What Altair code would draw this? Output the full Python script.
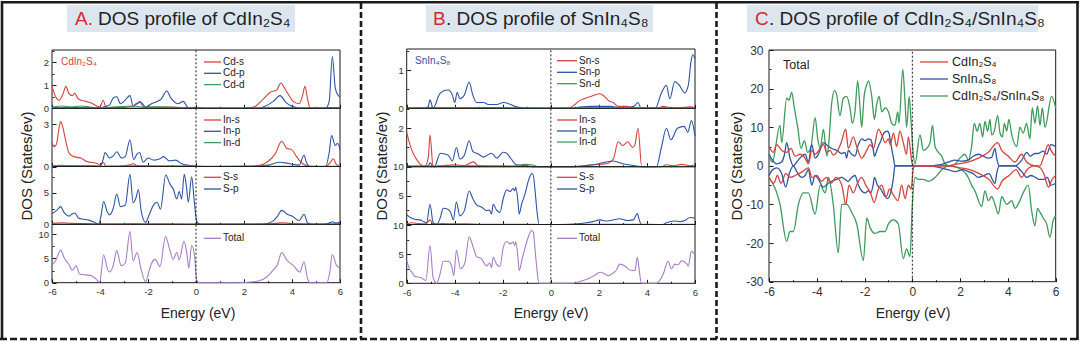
import altair as alt
import pandas as pd

W, H = 1080, 341
FONT = "Liberation Sans"
INK = "#1b1b1b"
LABEL = "#333333"
RED = "#d5433b"
BLUE = "#2e54a4"
GREEN = "#3e9b5d"
PURPLE = "#a87dc8"
TITLE_RED = "#d9262c"
BOX = "#dde6ef"

# ---------------- data (Energy eV, DOS states/eV) ----------------
A_CD_S = [(-6, 0.95), (-5.85, 0.5), (-5.7, 0.35), (-5.55, 0.6), (-5.42, 0.95), (-5.3, 0.65), (-5.15, 0.55),
          (-5.05, 0.65), (-4.9, 0.4), (-4.6, 0.3), (-4.3, 0.2), (-4.1, 0.08), (-4.0, 0.05), (-3.87, 0.35),
          (-3.75, 0.05), (-3.5, 0.02), (-3.0, 0.05), (-2.6, 0.1), (-2.45, 0.2), (-2.33, 0.3), (-2.2, 0.05),
          (-1.8, 0.05), (-1.2, 0.05), (-0.5, 0.03), (0, 0.02), (0.5, 0), (2.0, 0), (2.4, 0.05), (2.8, 0.4),
          (3.1, 0.7), (3.35, 0.78), (3.54, 1.1), (3.7, 0.85), (3.85, 0.6), (4.05, 0.3), (4.3, 0.2), (4.45, 0.6),
          (4.54, 0.95), (4.65, 0.4), (4.75, 0.02), (5.0, 0), (5.6, 0.03), (6, 0.02)]
A_CD_P = [(-6, 0.02), (-4.5, 0.02), (-4, 0), (-3.87, 0.05), (-3.6, 0.15), (-3.45, 0.45), (-3.3, 0.5),
          (-3.15, 0.2), (-3.0, 0.3), (-2.75, 0.55), (-2.62, 0.1), (-2.5, 0.2), (-2.28, 0.25), (-2.1, 0.05),
          (-1.85, 0.2), (-1.65, 0.28), (-1.45, 0.4), (-1.22, 0.75), (-1.05, 0.45), (-0.75, 0.2), (-0.53, 0.3),
          (-0.35, 0.05), (-0.15, 0), (0, 0), (2.6, 0), (2.9, 0.1), (3.22, 0.3), (3.5, 0.55), (3.75, 0.25),
          (4.1, 0.05), (4.4, 0), (5.4, 0), (5.55, 0.3), (5.68, 2.25), (5.8, 0.9), (5.9, 0.6), (6, 0.5)]
A_CD_D = [(-6, 0.05), (-5.6, 0.1), (-5.2, 0.06), (-4.8, 0.1), (-4.4, 0.05), (-4.0, 0.02), (-3.5, 0.05),
          (-3.0, 0.08), (-2.6, 0.1), (-2.2, 0.05), (-1.6, 0.06), (-1.0, 0.04), (-0.5, 0.03), (0, 0.01), (1, 0),
          (3.0, 0.02), (3.5, 0.03), (4.5, 0.02), (5.5, 0.02), (6, 0.02)]
A_IN_S = [(-6, 1.7), (-5.9, 1.4), (-5.8, 1.7), (-5.7, 2.8), (-5.64, 3.2), (-5.55, 2.8), (-5.45, 2.0),
          (-5.3, 1.0), (-5.15, 0.75), (-4.95, 0.65), (-4.8, 0.6), (-4.55, 0.35), (-4.3, 0.28), (-4.1, 0.2),
          (-4.0, 0.05), (-3.87, 0.3), (-3.75, 0.02), (-3.2, 0.02), (-2.8, 0.1), (-2.6, 0.2), (-2.45, 0.05),
          (-2.0, 0.04), (-1.0, 0.03), (0, 0.01), (2.2, 0), (2.7, 0.1), (2.95, 0.3), (3.3, 0.9), (3.57, 1.8),
          (3.78, 1.3), (3.99, 1.2), (4.15, 0.8), (4.3, 0.45), (4.45, 0.2), (4.75, 0.02), (5.4, 0), (5.6, 0.3),
          (5.72, 0.55), (5.85, 0.15), (6, 0.02)]
A_IN_P = [(-6, 0.02), (-5.5, 0.05), (-5.0, 0.04), (-4.3, 0.05), (-4.0, 0), (-3.87, 0.5), (-3.79, 1.0),
          (-3.6, 0.6), (-3.45, 0.75), (-3.3, 1.05), (-3.1, 0.6), (-2.95, 0.7), (-2.75, 1.9), (-2.6, 0.5),
          (-2.45, 0.9), (-2.35, 1.0), (-2.2, 0.3), (-2.0, 0.6), (-1.75, 0.45), (-1.5, 0.55), (-1.36, 0.7),
          (-1.1, 0.4), (-0.85, 0.45), (-0.6, 0.2), (-0.3, 0.08), (0, 0.02), (0.5, 0), (2.4, 0.03), (3.0, 0.1),
          (3.5, 0.3), (3.9, 0.2), (4.3, 0.1), (4.5, 0.8), (4.6, 0.3), (4.75, 0), (5.4, 0), (5.55, 1.0),
          (5.65, 2.2), (5.8, 1.5), (5.9, 1.65), (6, 1.2)]
A_IN_D = [(-6, 0.05), (-5.6, 0.08), (-5.2, 0.05), (-4.5, 0.05), (-4.0, 0.02), (-3.2, 0.04), (-2.5, 0.05),
          (-1.8, 0.04), (-1.0, 0.03), (-0.3, 0.05), (0, 0.02), (1, 0), (3.5, 0.02), (6, 0.02)]
A_S_S = [(-6, 0.15), (-5.6, 0.25), (-5.2, 0.15), (-4.8, 0.12), (-4.4, 0.08), (-4.0, 0.02), (-3.5, 0.05),
         (-3.0, 0.05), (-2.5, 0.08), (-2.0, 0.03), (-1.0, 0.03), (0, 0.01), (1, 0), (2.8, 0.02), (3.3, 0.15),
         (3.6, 0.25), (3.9, 0.15), (4.5, 0.05), (5.0, 0), (6, 0.02)]
A_S_P = [(-6, 1.7), (-5.8, 2.2), (-5.64, 2.8), (-5.5, 1.9), (-5.4, 1.5), (-5.3, 1.3), (-5.18, 1.6),
         (-5.05, 1.8), (-4.9, 1.0), (-4.7, 0.8), (-4.5, 0.7), (-4.25, 0.35), (-4.05, 0), (-3.95, 1.5),
         (-3.85, 3.6), (-3.7, 2.0), (-3.6, 1.5), (-3.45, 2.5), (-3.3, 4.8), (-3.15, 2.8), (-2.95, 3.0),
         (-2.75, 7.9), (-2.62, 3.4), (-2.5, 4.2), (-2.4, 5.5), (-2.28, 2.0), (-2.1, 0.3), (-1.95, 1.5),
         (-1.78, 3.0), (-1.62, 3.5), (-1.48, 2.4), (-1.26, 7.8), (-1.1, 6.5), (-0.94, 5.5), (-0.8, 4.0),
         (-0.7, 5.2), (-0.6, 4.0), (-0.49, 7.9), (-0.4, 6.0), (-0.32, 3.5), (-0.18, 7.5), (-0.08, 4.0),
         (0.03, 0.5), (0.17, 0), (2.8, 0), (3.2, 0.5), (3.4, 1.3), (3.57, 2.2), (3.8, 1.6), (4.0, 1.3),
         (4.3, 0.6), (4.5, 1.6), (4.65, 0.2), (4.8, 0), (5.4, 0), (5.6, 0.3), (5.68, 0.4), (5.85, 0.2), (6, 0.3)]
A_TOT = [(-6, 3.6), (-5.85, 4.5), (-5.64, 6.7), (-5.5, 5.2), (-5.42, 4.5), (-5.3, 3.8), (-5.15, 2.5),
         (-5.0, 3.5), (-4.85, 1.8), (-4.6, 1.6), (-4.4, 1.5), (-4.2, 0.9), (-4.0, 0.1), (-3.95, 2.0),
         (-3.85, 5.7), (-3.7, 3.0), (-3.6, 2.2), (-3.45, 3.5), (-3.3, 6.6), (-3.12, 3.5), (-2.95, 4.0),
         (-2.75, 10.5), (-2.62, 4.5), (-2.45, 6.2), (-2.3, 3.0), (-2.1, 0.2), (-1.95, 2.5), (-1.85, 4.0),
         (-1.7, 4.8), (-1.5, 3.3), (-1.27, 9.5), (-1.1, 6.9), (-0.95, 4.8), (-0.8, 6.2), (-0.7, 4.7),
         (-0.5, 8.5), (-0.38, 6.0), (-0.3, 3.0), (-0.18, 7.7), (-0.05, 5.0), (0.03, 0.5), (0.15, 0), (1.7, 0),
         (2.4, 0.2), (2.8, 0.7), (3.2, 2.5), (3.4, 3.8), (3.57, 6.2), (3.78, 4.7), (4.06, 3.5), (4.33, 2.2),
         (4.5, 4.3), (4.64, 1.0), (4.75, 0), (5.45, 0), (5.57, 2.0), (5.68, 5.8), (5.86, 3.5), (6, 3.0)]

B_SN_S = [(-6, 0), (-5.0, 0.01), (-3.5, 0.01), (-3.0, 0.02), (-2.0, 0.01), (0, 0), (0.7, 0), (0.9, 0.05),
          (1.2, 0.2), (1.62, 0.3), (2.04, 0.38), (2.25, 0.3), (2.4, 0.2), (2.6, 0.15), (2.8, 0.05), (3.15, 0.05),
          (3.5, 0), (4.5, 0), (4.65, 0.05), (4.95, 0.02), (5.3, 0.01), (5.8, 0.04), (6, 0.02)]
B_SN_P = [(-6, 0), (-5.2, 0), (-5.1, 0.05), (-5.03, 0.22), (-4.9, 0), (-4.8, 0.1), (-4.69, 0.3), (-4.48, 0.45),
          (-4.27, 0.48), (-4.1, 0.35), (-4.0, 0.15), (-3.9, 0.42), (-3.79, 0.25), (-3.6, 0.35), (-3.4, 0.68),
          (-3.25, 0.35), (-3.09, 0.15), (-2.8, 0.15), (-2.6, 0.1), (-2.25, 0.1), (-1.98, 0.15), (-1.75, 0.12),
          (-1.5, 0.05), (-1.0, 0), (0, 0), (0.9, 0), (1.2, 0.03), (1.76, 0.05), (2.45, 0.05), (3.0, 0),
          (3.45, 0.05), (3.63, 0.15), (3.75, 0), (4.35, 0), (4.6, 0.4), (4.81, 0.6), (4.95, 0.25), (5.16, 0.7),
          (5.35, 0.6), (5.57, 0.4), (5.72, 0.6), (5.83, 1.2), (5.9, 1.4), (6, 1.3)]
B_SN_D = [(-6, 0), (-4, 0.01), (-2, 0.01), (0, 0), (2, 0.01), (4, 0.01), (6, 0.01)]
B_IN_S = [(-6, 1.8), (-5.9, 1.3), (-5.8, 0.9), (-5.65, 0.5), (-5.45, 0.15), (-5.25, 0), (-5.1, 0.5),
          (-5.03, 1.65), (-4.9, 0), (-4.5, 0.05), (-4.0, 0.1), (-3.6, 0.05), (-3.23, 0.25), (-3.0, 0.05),
          (-2.0, 0.03), (-1.0, 0.01), (0, 0), (0.9, 0), (1.76, 0.1), (2.3, 0.15), (2.6, 0.4), (2.8, 1.3),
          (3.0, 1.1), (3.2, 1.3), (3.4, 1.0), (3.5, 1.15), (3.63, 2.0), (3.78, 0), (4.6, 0), (4.8, 0.1),
          (5.1, 0.05), (5.45, 0.12), (5.8, 0.05), (6, 0.1)]
B_IN_P = [(-6, 0.05), (-5.5, 0.03), (-5.1, 0.05), (-5.03, 0.2), (-4.85, 0), (-4.6, 0.7), (-4.27, 0.6),
          (-4.1, 0.3), (-3.93, 1.0), (-3.79, 0.4), (-3.6, 0.6), (-3.4, 1.35), (-3.25, 0.8), (-3.0, 0.65),
          (-2.8, 0.5), (-2.47, 0.7), (-2.25, 0.45), (-1.98, 0.75), (-1.84, 0.7), (-1.65, 0.4), (-1.43, 0.1),
          (-1.0, 0.05), (-0.7, 0), (0, 0), (0.9, 0), (1.76, 0.1), (2.6, 0.3), (3.0, 0.15), (3.5, 0.05),
          (3.78, 0), (4.4, 0), (4.6, 1.0), (4.81, 2.0), (5.0, 1.4), (5.27, 2.0), (5.55, 2.1), (5.7, 1.8),
          (5.85, 2.4), (6, 1.6)]
B_IN_D = [(-6, 0), (-5.2, 0.03), (-4.5, 0.05), (-4.0, 0.04), (-3.0, 0.05), (-2.0, 0.03), (-1.4, 0.05),
          (-1.1, 0.12), (-0.8, 0.1), (-0.5, 0), (0, 0), (6, 0.01)]
B_S_S = [(-6, 0.1), (-5.8, 0.3), (-5.5, 0.15), (-5.2, 0.1), (-5.03, 0.8), (-4.9, 0.1), (-4.5, 0.15), (-4, 0.1),
         (-3.5, 0.1), (-3, 0.05), (-2, 0.05), (-1, 0.05), (-0.5, 0), (0, 0), (2, 0.05), (3.6, 0.05), (4.5, 0),
         (6, 0.05)]
B_S_P = [(-6, 1.7), (-5.85, 1.2), (-5.67, 0.9), (-5.45, 0.8), (-5.3, 0.5), (-5.17, 0.3), (-5.03, 3.5),
         (-4.9, 0.3), (-4.75, 0), (-4.6, 1.2), (-4.48, 2.8), (-4.27, 2.6), (-4.16, 2.0), (-4.06, 0.8),
         (-3.93, 3.9), (-3.79, 1.5), (-3.6, 2.4), (-3.4, 5.8), (-3.25, 4.5), (-3.09, 3.4), (-2.88, 3.0),
         (-2.68, 2.4), (-2.55, 2.5), (-2.47, 1.8), (-2.4, 3.5), (-2.26, 2.5), (-2.12, 2.1), (-1.98, 4.5),
         (-1.84, 6.0), (-1.7, 5.7), (-1.57, 6.2), (-1.5, 5.8), (-1.46, 6.5), (-1.36, 3.6), (-1.32, 1.8),
         (-1.22, 3.5), (-1.08, 5.2), (-0.94, 7.5), (-0.8, 8.8), (-0.73, 8.5), (-0.66, 6.0), (-0.57, 2.0),
         (-0.49, 0), (0.65, 0), (1.48, 0.3), (1.76, 0.5), (2.04, 0.8), (2.32, 0.6), (2.73, 0.9), (2.87, 1.0),
         (3.15, 0.7), (3.43, 0.8), (3.6, 1.9), (3.68, 0.8), (3.77, 0), (4.67, 0), (4.81, 0.3), (5.16, 0.6),
         (5.37, 0.5), (5.58, 0.7), (5.79, 1.2), (6, 1.1)]
B_TOT = [(-6, 4.0), (-5.85, 2.2), (-5.8, 2.0), (-5.67, 1.2), (-5.43, 1.0), (-5.2, 0.5), (-5.03, 6.5),
         (-4.9, 1.0), (-4.75, 0), (-4.6, 1.8), (-4.48, 3.8), (-4.27, 3.8), (-4.13, 3.0), (-4.04, 1.3),
         (-3.93, 5.7), (-3.76, 2.5), (-3.58, 3.5), (-3.4, 8.0), (-3.23, 6.2), (-3.09, 4.6), (-2.88, 4.2),
         (-2.68, 3.0), (-2.54, 3.5), (-2.47, 2.7), (-2.4, 4.5), (-2.26, 3.3), (-2.12, 2.9), (-1.98, 6.2),
         (-1.84, 7.2), (-1.7, 6.8), (-1.57, 7.1), (-1.5, 6.5), (-1.46, 7.2), (-1.36, 4.0), (-1.32, 2.2),
         (-1.19, 4.3), (-1.05, 6.5), (-0.91, 8.3), (-0.8, 9.1), (-0.73, 8.8), (-0.66, 6.0), (-0.57, 2.0),
         (-0.49, 0), (0.8, 0), (1.2, 0.3), (1.62, 0.9), (1.83, 1.4), (2.06, 1.9), (2.25, 1.6), (2.38, 1.3),
         (2.6, 1.8), (2.73, 2.3), (2.87, 3.3), (3.08, 3.0), (3.29, 2.3), (3.5, 2.2), (3.6, 4.5), (3.68, 2.2),
         (3.77, 0), (4.4, 0), (4.67, 1.5), (4.88, 3.8), (5.02, 2.5), (5.16, 3.3), (5.3, 3.2), (5.44, 3.9),
         (5.65, 3.4), (5.72, 3.0), (5.85, 5.5), (6, 4.9)]

C_CD_UP = [(-6, 5), (-5.82, 3.5), (-5.68, 5.5), (-5.47, 4), (-5.26, 3.5), (-5.08, 4.5), (-4.91, 2.5), (-4.7, 3),
           (-4.49, 2), (-4.35, 0.5), (-4.21, 4), (-4.07, 3), (-3.86, 4.5), (-3.72, 5.5), (-3.58, 3.5),
           (-3.44, 4), (-3.31, 2.8), (-3.17, 3.5), (-2.98, 6), (-2.79, 9.5), (-2.68, 4.5), (-2.47, 7.5),
           (-2.33, 5), (-2.12, 2), (-1.91, 4), (-1.77, 5.5), (-1.63, 4.5), (-1.42, 9.5), (-1.28, 8), (-1.14, 6),
           (-1.0, 7), (-0.93, 5.5), (-0.79, 8.5), (-0.66, 5), (-0.52, 9), (-0.38, 6), (-0.24, 3), (-0.17, 7.5),
           (0, 0.5), (0.11, 0), (1.5, 0), (1.9, 0.5), (2.35, 1), (2.76, 2), (3.18, 3.5), (3.57, 6), (3.74, 4),
           (4.02, 2.5), (4.3, 1), (4.57, 3), (4.78, 1), (5.13, 0), (5.34, 0), (5.48, 2), (5.69, 5.5), (5.8, 4),
           (6, 2.5)]
C_CD_DN = [(-6, -3), (-5.8, -4.5), (-5.65, -2.5), (-5.5, -4.5), (-5.3, -2), (-5.1, -3), (-4.9, -2.5),
           (-4.6, -1.5), (-4.35, -0.5), (-4.2, -3), (-4.0, -2.5), (-3.8, -4), (-3.6, -3), (-3.4, -4.5),
           (-3.2, -3), (-2.95, -5), (-2.79, -10), (-2.65, -5), (-2.47, -7), (-2.3, -4.5), (-2.12, -3),
           (-1.95, -5), (-1.75, -7), (-1.6, -9.5), (-1.42, -6), (-1.28, -5), (-1.1, -8), (-0.95, -6),
           (-0.8, -7.5), (-0.6, -9), (-0.45, -5), (-0.3, -8.5), (-0.17, -5), (-0.05, -6), (0.05, -0.5),
           (0.15, 0), (1.5, 0), (2.0, -0.5), (2.4, -1), (2.8, -2), (3.2, -3.5), (3.57, -6), (3.75, -4),
           (4.05, -2.5), (4.35, -1), (4.57, -3), (4.8, -1), (5.1, 0), (5.35, -0.5), (5.5, -2), (5.7, -5.5),
           (5.85, -3.5), (6, -2.5)]
C_SN_UP = [(-6, 3), (-5.85, 1.5), (-5.68, 0.5), (-5.47, 1), (-5.35, 3), (-5.26, 6), (-5.12, 2), (-4.98, 0),
           (-4.84, 1), (-4.63, 2.5), (-4.49, 3), (-4.35, 1), (-4.21, 5.5), (-4.07, 2), (-3.93, 3), (-3.72, 6),
           (-3.51, 5), (-3.38, 4.5), (-3.17, 4), (-2.96, 3.2), (-2.82, 3.5), (-2.75, 2), (-2.68, 4), (-2.54, 3),
           (-2.4, 2.5), (-2.26, 5.5), (-2.12, 7), (-1.98, 6.5), (-1.84, 7), (-1.74, 6.8), (-1.63, 4),
           (-1.59, 2.5), (-1.46, 4.5), (-1.32, 6.5), (-1.19, 8.5), (-1.05, 9), (-0.98, 8.5), (-0.91, 6),
           (-0.79, 2), (-0.73, 0), (0.7, 0), (1.2, 0.3), (1.51, 1), (1.79, 1.5), (2.07, 1.2), (2.34, 1.5),
           (2.55, 2.5), (2.76, 3), (2.97, 2.5), (3.18, 2), (3.32, 2.2), (3.46, 4.5), (3.53, 2), (3.63, 0),
           (4.3, 0), (4.58, 1.5), (4.79, 3.5), (4.93, 2.5), (5.13, 3.2), (5.27, 3.2), (5.48, 3.8), (5.62, 3),
           (5.8, 5.5), (6, 5)]
C_SN_DN = [(-6, -2.5), (-5.85, -1), (-5.68, -0.5), (-5.47, -2), (-5.3, -5.5), (-5.15, -2), (-4.98, 0),
           (-4.84, -1.5), (-4.63, -3), (-4.49, -2.5), (-4.35, -1), (-4.21, -5), (-4.07, -2.5), (-3.93, -3.5),
           (-3.72, -5.5), (-3.51, -4.5), (-3.38, -4), (-3.17, -3.5), (-2.96, -3), (-2.82, -3.5), (-2.68, -4),
           (-2.54, -3), (-2.4, -2.5), (-2.26, -5), (-2.12, -6.5), (-1.98, -7), (-1.84, -6.5), (-1.74, -7),
           (-1.63, -4.5), (-1.59, -3), (-1.46, -5), (-1.32, -6), (-1.19, -7.5), (-1.05, -8.5), (-0.91, -7),
           (-0.79, -3), (-0.73, 0), (0.7, 0), (1.2, -0.5), (1.5, -1), (1.8, -1.5), (2.1, -1), (2.35, -1.5),
           (2.55, -2), (2.76, -3), (3.0, -2.5), (3.2, -2), (3.46, -4.5), (3.53, -2), (3.63, 0), (4.3, 0),
           (4.58, -1.5), (4.79, -3), (4.95, -2.5), (5.15, -3), (5.3, -3.5), (5.5, -3.5), (5.65, -3), (5.8, -5),
           (6, -4.5)]
C_HET_UP = [(-6, 2.5), (-5.86, 1), (-5.54, 10.5), (-5.47, 6), (-5.26, 17.5), (-5.16, 17), (-5.05, 19),
            (-4.94, 15), (-4.8, 10), (-4.66, 4.5), (-4.52, 6.5), (-4.38, 3.5), (-4.24, 5), (-4.07, 12.5),
            (-3.96, 7), (-3.86, 4.5), (-3.72, 9.5), (-3.58, 2.5), (-3.51, 5), (-3.38, 16), (-3.26, 19.5),
            (-3.17, 18.5), (-3.03, 13), (-2.89, 17.5), (-2.75, 18), (-2.61, 15), (-2.51, 11), (-2.4, 14),
            (-2.29, 22), (-2.19, 15), (-2.12, 10), (-2.02, 18), (-1.91, 21), (-1.84, 22), (-1.7, 18),
            (-1.59, 12), (-1.49, 16), (-1.39, 18), (-1.28, 14), (-1.14, 15), (-1.0, 14), (-0.86, 11),
            (-0.73, 10.5), (-0.61, 14), (-0.56, 11), (-0.4, 25), (-0.31, 17), (-0.24, 10), (-0.13, 18),
            (-0.06, 12), (0.04, 3), (0.11, 0.5), (0.32, 8), (0.46, 4), (0.6, 4.5), (0.74, 6), (0.84, 10.5),
            (0.95, 5), (1.09, 3.5), (1.23, 2.5), (1.37, 0.5), (1.58, 0), (1.79, 0.5), (1.99, 2), (2.2, 3),
            (2.34, 1.5), (2.48, 5), (2.59, 11), (2.71, 9), (2.83, 11), (2.94, 7.5), (3.04, 11.5), (3.15, 9),
            (3.25, 12), (3.32, 8), (3.43, 9), (3.57, 13), (3.67, 8.5), (3.77, 7.5), (3.85, 11), (3.95, 9),
            (4.04, 12), (4.16, 8), (4.37, 5), (4.5, 10), (4.64, 8.5), (4.78, 11), (4.92, 7), (5.02, 15),
            (5.13, 11), (5.24, 15.5), (5.34, 10.5), (5.44, 15), (5.55, 10), (5.83, 18), (6, 15)]
C_HET_DN = [(-6, -3), (-5.54, -10), (-5.26, -19.5), (-5.12, -17), (-4.98, -17), (-4.77, -10), (-4.56, -7),
            (-4.35, -7), (-4.07, -12.5), (-3.86, -5), (-3.65, -7), (-3.51, -3), (-3.31, -10), (-3.1, -22.5),
            (-2.96, -10), (-2.75, -10), (-2.54, -12), (-2.33, -15), (-2.05, -24.5), (-1.91, -13.5),
            (-1.77, -16), (-1.56, -17.5), (-1.35, -17), (-1.14, -17), (-1.0, -15), (-0.79, -14), (-0.59, -15),
            (-0.38, -24), (-0.24, -21.5), (-0.1, -23.5), (0, -10), (0.11, -3), (0.25, -3.5), (0.46, -3.5),
            (0.67, -4), (0.95, -3), (1.23, -1), (1.51, 0), (2.06, -1), (2.34, -3), (2.48, -5), (2.62, -6.5),
            (2.9, -10.5), (3.04, -6.5), (3.18, -9), (3.32, -8), (3.46, -10), (3.6, -12.5), (3.74, -8),
            (3.95, -10), (4.16, -9), (4.3, -11), (4.5, -9), (4.64, -7), (4.85, -5), (4.99, -11.5),
            (5.13, -15.5), (5.24, -11), (5.34, -12), (5.48, -13.5), (5.62, -15), (5.76, -18.5), (5.9, -14),
            (6, -13)]

E_LABELS = [-6, -4, -2, 0, 2, 4, 6]
E_TICKS = list(range(-6, 7))
NUM = "datum.value < 0 ? '-' + abs(datum.value) : '' + datum.value"


def tick_size(step, major, minor):
    test = f"abs(datum.value / {step} - round(datum.value / {step})) < 0.001"
    return {"condition": {"test": test, "value": major}, "value": minor}


def subplot(series, px_x, px_y, ydom, ylabels, yticks, ystep, xlabels, lw, lab_size, pad_y, pad_x):
    xs = alt.Scale(domain=[-6, 6], range=[px_x[0], px_x[1]], nice=False, zero=False)
    ys = alt.Scale(domain=ydom, range=[px_y[1], px_y[0]], nice=False, zero=False)
    rows = []
    for name, _color, pts in series:
        for e, v in pts:
            rows.append({"E": e, "V": v, "s": name})
    df = pd.DataFrame(rows)
    names = [s[0] for s in series]
    colors = [s[1] for s in series]
    if xlabels:
        xaxis = alt.Axis(orient="bottom", offset=px_y[1] - H, values=E_LABELS, ticks=False, tickSize=0,
                         domain=False, grid=False, labelFlush=False, labelFontSize=lab_size,
                         labelPadding=pad_x, labelExpr=NUM, title=None, labelColor=LABEL, labelFont=FONT)
    else:
        xaxis = None
    yaxis = alt.Axis(orient="left", offset=-px_x[0], values=ylabels, ticks=False, tickSize=0, domain=False,
                     grid=False, labelFontSize=lab_size, labelPadding=pad_y, labelExpr=NUM, title=None,
                     labelColor=LABEL, labelFont=FONT, labelFlush=False)
    lines = alt.Chart(df).mark_line(strokeWidth=lw, interpolate="monotone").encode(
        x=alt.X("E:Q", scale=xs, axis=xaxis),
        y=alt.Y("V:Q", scale=ys, axis=yaxis),
        color=alt.Color("s:N", scale=alt.Scale(domain=names, range=colors), legend=None),
    )
    fdf = pd.DataFrame({"a": [-6], "b": [6], "c": [ydom[0]], "d": [ydom[1]]})
    frame = alt.Chart(fdf).mark_rect(fillOpacity=0, stroke=INK, strokeWidth=1).encode(
        x=alt.X("a:Q", scale=xs, axis=alt.Axis(orient="top", offset=-px_y[1], values=E_TICKS, labels=False,
                                                domain=False, grid=False, tickColor=INK, tickWidth=1,
                                                tickSize=tick_size(2, 4, 2), title=None)),
        x2="b:Q",
        y=alt.Y("c:Q", scale=ys, axis=alt.Axis(orient="right", offset=px_x[0] - W, values=yticks, labels=False,
                                                domain=False, grid=False, tickColor=INK, tickWidth=1,
                                                tickSize=tick_size(ystep, 4, 2), title=None)),
        y2="d:Q",
    )
    zdf = pd.DataFrame({"e": [0], "lo": [ydom[0]], "hi": [ydom[1]]})
    zero = alt.Chart(zdf).mark_rule(color=INK, strokeWidth=1, strokeDash=[2, 2]).encode(
        x=alt.X("e:Q", scale=xs, axis=None),
        y=alt.Y("lo:Q", scale=ys, axis=None),
        y2="hi:Q",
    )
    return [frame, lines, zero]


def text_layer(rows, align):
    df = pd.DataFrame(rows, columns=["x", "y", "text", "color", "size", "angle"])
    return alt.Chart(df).mark_text(align=align, baseline="middle", font=FONT).encode(
        x=alt.X("x:Q", scale=None, axis=None),
        y=alt.Y("y:Q", scale=None, axis=None),
        text="text:N",
        color=alt.Color("color:N", scale=None, legend=None),
        size=alt.Size("size:Q", scale=None, legend=None),
        angle=alt.Angle("angle:Q", scale=None, legend=None),
    )


def hrule_layer(rows, width, dash=None):
    df = pd.DataFrame(rows, columns=["x", "x2", "y", "color"])
    kw = dict(strokeWidth=width)
    if dash:
        kw["strokeDash"] = dash
    return alt.Chart(df).mark_rule(**kw).encode(
        x=alt.X("x:Q", scale=None, axis=None), x2="x2:Q",
        y=alt.Y("y:Q", scale=None, axis=None),
        color=alt.Color("color:N", scale=None, legend=None),
    )


def vrule_layer(rows, width, dash=None):
    df = pd.DataFrame(rows, columns=["x", "y", "y2", "color"])
    kw = dict(strokeWidth=width)
    if dash:
        kw["strokeDash"] = dash
    return alt.Chart(df).mark_rule(**kw).encode(
        x=alt.X("x:Q", scale=None, axis=None),
        y=alt.Y("y:Q", scale=None, axis=None), y2="y2:Q",
        color=alt.Color("color:N", scale=None, legend=None),
    )


# ---------------- layout ----------------
AX = (52, 340)
BX = (406.7, 695)
CX = (769, 1055.7)
A_ROWS = [(50, 108.3), (108.3, 166.5), (166.5, 224.3), (224.3, 282.7)]
B_ROWS = [(49, 108.3), (108.3, 166.7), (166.7, 224.5), (224.5, 283.3)]
C_ROW = (50, 281.7)

A_SUBS = [
    ([("Cd-s", RED, A_CD_S), ("Cd-p", BLUE, A_CD_P), ("Cd-d", GREEN, A_CD_D)], [0, 2.53], [0, 1, 2],
     [0, 0.5, 1, 1.5, 2, 2.5], 1),
    ([("In-s", RED, A_IN_S), ("In-p", BLUE, A_IN_P), ("In-d", GREEN, A_IN_D)], [0, 4.14], [0, 3],
     [0, 1.5, 3], 3),
    ([("S-s", RED, A_S_S), ("S-p", BLUE, A_S_P)], [0, 9.15], [0, 5], [0, 2.5, 5, 7.5], 5),
    ([("Total", PURPLE, A_TOT)], [0, 12.0], [0, 5, 10], [0, 2.5, 5, 7.5, 10], 5),
]
B_SUBS = [
    ([("Sn-s", RED, B_SN_S), ("Sn-p", BLUE, B_SN_P), ("Sn-d", GREEN, B_SN_D)], [0, 1.55], [0, 1],
     [0, 0.5, 1, 1.5], 1),
    ([("In-s", RED, B_IN_S), ("In-p", BLUE, B_IN_P), ("In-d", GREEN, B_IN_D)], [0, 3.04], [2],
     [0, 1, 2, 3], 2),
    ([("S-s", RED, B_S_S), ("S-p", BLUE, B_S_P)], [0, 10], [5, 10], [0, 2.5, 5, 7.5, 10], 5),
    ([("Total", PURPLE, B_TOT)], [0, 10.14], [0, 5, 10], [0, 2.5, 5, 7.5, 10], 5),
]
A_LEG_Y = [[62, 73.3, 84.6], [120, 131.3, 142.6], [177.3, 189], [238.3]]
B_LEG_Y = [[60.7, 72.3, 83.7], [120, 131, 142], [177.3, 189], [238.3]]

layers = []
boxes = pd.DataFrame({"x": [67, 426, 747], "x2": [295, 653, 1038], "y": [5, 5, 5], "y2": [32, 32, 32]})
layers.append(alt.Chart(boxes).mark_rect(color=BOX).encode(
    x=alt.X("x:Q", scale=None, axis=None), x2="x2:Q",
    y=alt.Y("y:Q", scale=None, axis=None), y2="y2:Q"))

# borders
layers.append(hrule_layer([(1, 1079, 2.2, INK)], 2.6))
layers.append(vrule_layer([(2, 1, 340, INK), (1077.5, 1, 340, INK)], 2.6))
layers.append(hrule_layer([(0, 1080, 339, INK)], 2.6, [7, 3]))
layers.append(vrule_layer([(361, 3, 339, INK), (716.5, 3, 339, INK)], 2.6, [6, 3]))

legend_lines = []
legend_texts = []
for (subs, rows, px_x, leg_y, lx0, lx1, tx) in [
    (A_SUBS, A_ROWS, AX, A_LEG_Y, 204, 221, 223),
    (B_SUBS, B_ROWS, BX, B_LEG_Y, 557, 577, 579),
]:
    for k, (series, ydom, ylab, ytk, ystep) in enumerate(subs):
        layers += subplot(series, px_x, rows[k], ydom, ylab, ytk, ystep, k == 3, 1.1, 9.5, 3.5, 4)
        for (name, color, _), yy in zip(series, leg_y[k]):
            legend_lines.append((lx0, lx1, yy, color))
            legend_texts.append((tx, yy, name, "#222222", 10, 0))

C_SERIES = [("het_up", GREEN, C_HET_UP), ("het_dn", GREEN, C_HET_DN),
            ("sn_up", BLUE, C_SN_UP), ("sn_dn", BLUE, C_SN_DN),
            ("cd_up", RED, C_CD_UP), ("cd_dn", RED, C_CD_DN)]
layers += subplot(C_SERIES, CX, C_ROW, [-30, 30], [-30, -20, -10, 0, 10, 20, 30], list(range(-30, 31, 5)),
                  10, True, 1.3, 12, 6, 5)

C_LEGEND = [("CdIn₂S₄", RED), ("SnIn₄S₈", BLUE), ("CdIn₂S₄/SnIn₄S₈", GREEN)]
for (name, color), yy in zip(C_LEGEND, [62, 79, 96]):
    legend_lines.append((920, 948, yy, color))
    legend_texts.append((952, yy, name, "#222222", 12.5, 0))

layers.append(hrule_layer(legend_lines, 1.3))

left_texts = legend_texts + [
    (75, 18.5, "A.", TITLE_RED, 19, 0),
    (98, 18.5, "DOS profile of CdIn₂S₄", "#222222", 19, 0),
    (433, 18.5, "B", TITLE_RED, 19, 0),
    (446, 18.5, ". DOS profile of SnIn₄S₈", "#222222", 19, 0),
    (755, 18.5, "C", TITLE_RED, 19, 0),
    (769, 18.5, ". DOS profile of CdIn₂S₄/SnIn₄S₈", "#222222", 19, 0),
    (61, 62, "CdIn₂S₄", RED, 10, 0),
    (415, 61, "SnIn₄S₈", BLUE, 10, 0),
    (783, 65, "Total", "#222222", 12.5, 0),
]
center_texts = [
    (198, 314, "Energy (eV)", "#222222", 14, 0),
    (551, 314, "Energy (eV)", "#222222", 14, 0),
    (913, 314, "Energy (eV)", "#222222", 14, 0),
    (27, 166, "DOS (States/ev)", "#222222", 15, 270),
    (382, 166, "DOS (States/ev)", "#222222", 15, 270),
    (737, 166, "DOS (States/ev)", "#222222", 15, 270),
]
layers.append(text_layer(left_texts, "left"))
layers.append(text_layer(center_texts, "center"))

chart = alt.layer(*layers).resolve_scale(
    x="independent", y="independent", color="independent"
).properties(
    width=W, height=H, autosize=alt.AutoSizeParams(type="none"), padding=0, background="white"
).configure_view(stroke=None)

chart.save("out.html", embed_options={"renderer": "svg", "actions": False})
